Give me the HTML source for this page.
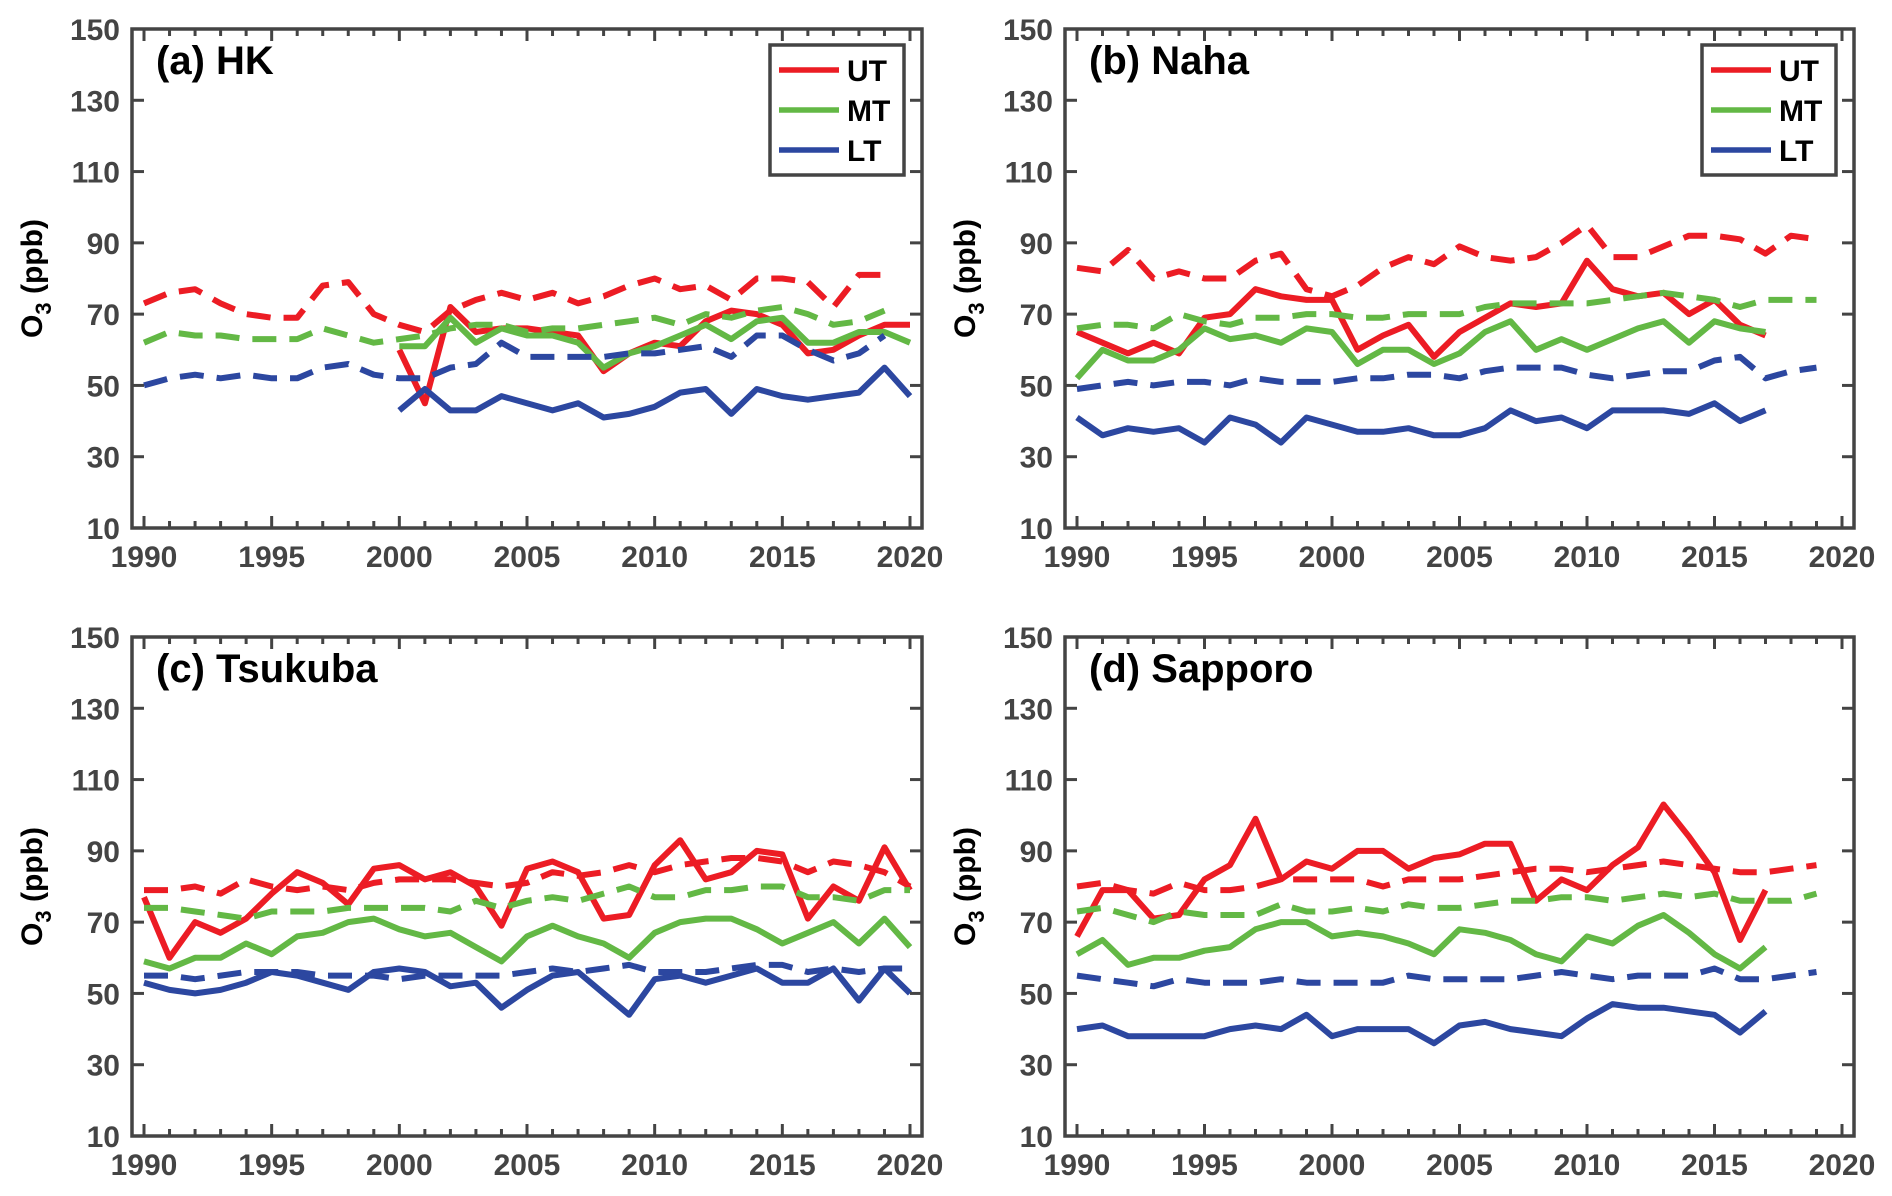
<!DOCTYPE html>
<html><head><meta charset="utf-8"><style>
html,body{margin:0;padding:0;background:#fff;}
svg{display:block;font-family:"Liberation Sans",Arial,sans-serif;}
</style></head><body>
<svg id="fig" width="1892" height="1196" viewBox="0 0 1892 1196" xmlns="http://www.w3.org/2000/svg"></svg>
<script>
// ---- data ----
const yearsFull = [1990,1991,1992,1993,1994,1995,1996,1997,1998,1999,2000,2001,2002,2003,2004,2005,2006,2007,2008,2009,2010,2011,2012,2013,2014,2015,2016,2017,2018,2019,2020];
const yTicks = [10,30,50,70,90,110,130,150];
const xTicks = [1990,1995,2000,2005,2010,2015,2020];
const panelTitles = ["(a) HK","(b) Naha","(c) Tsukuba","(d) Sapporo"];

// HK
const hkUTdash = [73,76,77,73,70,69,69,78,79,70,67,65,71,74,76,74,76,73,75,78,80,77,78,74,80,80,79,72,81,81];
const hkMTdash = [62,65,64,64,63,63,63,66,64,62,63,64,66,67,67,65,66,66,67,68,69,67,70,69,71,72,70,67,68,71];
const hkLTdash = [50,52,53,52,53,52,52,55,56,53,52,52,55,56,62,58,58,58,58,59,59,60,61,58,64,64,60,57,59,64];
const hkUT = [60,45,72,65,66,66,65,64,54,59,62,61,68,71,70,67,59,60,64,67,67];
const hkMT = [61,61,69,62,66,64,64,62,55,59,61,64,67,63,68,69,62,62,65,65,62];
const hkLT = [43,49,43,43,47,45,43,45,41,42,44,48,49,42,49,47,46,47,48,55,47];
// Naha
const nhUTdash = [83,82,88,80,82,80,80,85,87,77,75,78,83,86,84,89,86,85,86,90,95,86,86,89,92,92,91,87,92,91];
const nhMTdash = [66,67,67,66,70,68,67,69,69,70,70,69,69,70,70,70,72,73,73,73,73,74,75,76,75,74,72,74,74,74];
const nhLTdash = [49,50,51,50,51,51,50,52,51,51,51,52,52,53,53,52,54,55,55,55,53,52,53,54,54,57,58,52,54,55];
const nhUT = [65,62,59,62,59,69,70,77,75,74,74,60,64,67,58,65,69,73,72,73,85,77,75,76,70,74,67,64];
const nhMT = [52,60,57,57,60,66,63,64,62,66,65,56,60,60,56,59,65,68,60,63,60,63,66,68,62,68,66,65];
const nhLT = [41,36,38,37,38,34,41,39,34,41,39,37,37,38,36,36,38,43,40,41,38,43,43,43,42,45,40,43];
// Tsukuba
const tkUTdash = [79,79,80,78,82,80,79,80,79,81,82,82,82,81,80,81,84,83,84,86,84,86,87,88,88,87,84,87,86,84,80];
const tkMTdash = [74,74,73,72,71,73,73,73,74,74,74,74,73,76,74,76,77,76,78,80,77,77,79,79,80,80,77,77,76,79,79];
const tkLTdash = [55,55,54,55,56,56,56,55,55,55,54,55,55,55,55,56,57,56,57,58,56,56,56,57,58,58,56,57,56,57,57];
const tkUT = [77,60,70,67,71,78,84,81,75,85,86,82,84,80,69,85,87,84,71,72,86,93,82,84,90,89,71,80,76,91,79];
const tkMT = [59,57,60,60,64,61,66,67,70,71,68,66,67,63,59,66,69,66,64,60,67,70,71,71,68,64,67,70,64,71,63];
const tkLT = [53,51,50,51,53,56,55,53,51,56,57,56,52,53,46,51,55,56,50,44,54,55,53,55,57,53,53,57,48,57,50];
// Sapporo
const spUTdash = [80,81,79,78,81,79,79,80,82,82,82,82,80,82,82,82,83,84,85,85,84,85,86,87,86,85,84,84,85,86];
const spMTdash = [73,74,72,70,73,72,72,72,75,73,73,74,73,75,74,74,75,76,76,77,77,76,77,78,77,78,76,76,76,78];
const spLTdash = [55,54,53,52,54,53,53,53,54,53,53,53,53,55,54,54,54,54,55,56,55,54,55,55,55,57,54,54,55,56];
const spUT = [66,79,79,71,72,82,86,99,82,87,85,90,90,85,88,89,92,92,76,82,79,86,91,103,94,84,65,79];
const spMT = [61,65,58,60,60,62,63,68,70,70,66,67,66,64,61,68,67,65,61,59,66,64,69,72,67,61,57,63];
const spLT = [40,41,38,38,38,38,40,41,40,44,38,40,40,40,36,41,42,40,39,38,43,47,46,46,45,44,39,45];

const C = {UT:"#ec1c24", MT:"#63b845", LT:"#2c47a0"};
const NS = "http://www.w3.org/2000/svg";
const svg = document.getElementById('fig');
function mk(tag, attrs, parent){const e=document.createElementNS(NS,tag);for(const k in attrs)e.setAttribute(k,attrs[k]);(parent||svg).appendChild(e);return e;}

const panels = [
 {x0:132,x1:922,y0:29,y1:528,start:[1990,2000],dash:[hkUTdash,hkMTdash,hkLTdash],solid:[hkUT,hkMT,hkLT],legend:true},
 {x0:1065,x1:1854,y0:29,y1:528,start:[1990,1990],dash:[nhUTdash,nhMTdash,nhLTdash],solid:[nhUT,nhMT,nhLT],legend:true},
 {x0:132,x1:922,y0:637,y1:1136,start:[1990,1990],dash:[tkUTdash,tkMTdash,tkLTdash],solid:[tkUT,tkMT,tkLT],legend:false},
 {x0:1065,x1:1854,y0:637,y1:1136,start:[1990,1990],dash:[spUTdash,spMTdash,spLTdash],solid:[spUT,spMT,spLT],legend:false}
];
const keys=["UT","MT","LT"];

panels.forEach((p,pi)=>{
  const g=mk('g',{});
  
  
  const xS=yr=>p.x0+12+(yr-1990)*(p.x1-p.x0-24)/30;
  const yS=v=>p.y1-(v-10)*(p.y1-p.y0)/140;
  keys.forEach((k,i)=>{
    [['dash',p.dash[i],p.start[0]],['solid',p.solid[i],p.start[1]]].forEach(([t,arr,s])=>{
      const pts=arr.map((v,j)=>xS(s+j).toFixed(1)+','+yS(v).toFixed(1)).join(' ');
      const pl=mk('polyline',{points:pts,fill:'none',stroke:C[k],'stroke-width':6,'stroke-linejoin':'round'},g);
      if(t==='dash') pl.setAttribute('stroke-dasharray','24 13');
      
      
    });
  });
  const box=mk('rect',{x:p.x0,y:p.y0,width:p.x1-p.x0,height:p.y1-p.y0,fill:'none',stroke:'#444','stroke-width':3.5},g);
  
  
  for(let yr=1990;yr<=2020;yr++){
    const L=(yr%5===0)?12:7, x=xS(yr);
    mk('line',{x1:x,x2:x,y1:p.y1,y2:p.y1-L,stroke:'#444','stroke-width':3},g);
    mk('line',{x1:x,x2:x,y1:p.y0,y2:p.y0+L,stroke:'#444','stroke-width':3},g);
  }
  xTicks.forEach(yr=>{
    const t=mk('text',{x:xS(yr),y:p.y1+39,'text-anchor':'middle','font-size':30,'font-weight':'bold',fill:'#444'},g);
    t.textContent=yr;
    
    
  });
  yTicks.forEach(v=>{
    const y=yS(v);
    mk('line',{x1:p.x0,x2:p.x0+12,y1:y,y2:y,stroke:'#444','stroke-width':3},g);
    mk('line',{x1:p.x1,x2:p.x1-12,y1:y,y2:y,stroke:'#444','stroke-width':3},g);
    const t=mk('text',{x:p.x0-12,y:y+11,'text-anchor':'end','font-size':30,'font-weight':'bold',fill:'#444'},g);
    t.textContent=v;
    
    
  });
  const tt=mk('text',{x:p.x0+24,y:p.y0+45,'font-size':40,'font-weight':'bold',fill:'#000'},g);
  tt.textContent=panelTitles[pi];
  
  
  const yl=mk('text',{transform:`translate(${p.x0-90},${(p.y0+p.y1)/2}) rotate(-90)`,'text-anchor':'middle','font-size':30,'font-weight':'bold',fill:'#000'},g);
  yl.innerHTML='O<tspan font-size="22" dy="9">3</tspan><tspan dy="-9"> (ppb)</tspan>';
  
  
  if(p.legend){
    const lg=mk('g',{},g);
    
    
    const lx=p.x1-152;
    mk('rect',{x:lx,y:45,width:134,height:130,fill:'#fff',stroke:'#444','stroke-width':3.5},lg);
    keys.forEach((k,i)=>{
      const y=70+i*40;
      const e=mk('g',{},lg);
      
      
      mk('line',{x1:lx+9,x2:lx+69,y1:y,y2:y,stroke:C[k],'stroke-width':5.5},e);
      const t=mk('text',{x:lx+77,y:y+11,'font-size':30,'font-weight':'bold',fill:'#000'},e);
      t.textContent=k;
    });
  }
});
</script>
</body></html>
